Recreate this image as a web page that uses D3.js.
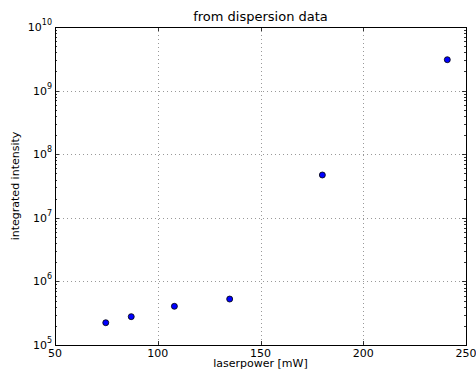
<!DOCTYPE html>
<html>
<head>
<meta charset="utf-8">
<script src="https://cdn.jsdelivr.net/npm/d3@7"></script>
<style>
  html, body { margin: 0; padding: 0; background: #fff; overflow: hidden; }
  svg { display: block; }
  text { font-family: "DejaVu Sans", sans-serif; fill: #000; }
</style>
</head>
<body>
<div id="chart"></div>
<script>
// laser power [mW] vs integrated intensity
const power = [74.7, 87.1, 108.1, 135.0, 180.1, 240.9];
const intensity = [2.24e5, 2.79e5, 4.06e5, 5.28e5, 4.71e7, 3.06e9];
const xTicks = [50, 100, 150, 200, 250];
const yExps = [5, 6, 7, 8, 9, 10];

const width = 476, height = 371;
const margin = { top: 27, right: 10, bottom: 26, left: 55 };
const innerWidth = 466 - margin.left;
const innerHeight = 345 - margin.top;

const svg = d3.select("#chart").append("svg")
    .attr("width", width).attr("height", height);
const g = svg.append("g").attr("transform", `translate(${margin.left},${margin.top})`);

const x = d3.scaleLinear().domain([50, 250]).range([0, innerWidth]);
const y = d3.scaleLog().domain([1e5, 1e10]).range([innerHeight, 0]);

// grid
g.selectAll(".gx").data(xTicks.slice(1, -1)).enter().append("line")
    .attr("x1", d => Math.round(x(d)) + 0.5).attr("x2", d => Math.round(x(d)) + 0.5)
    .attr("y1", 0).attr("y2", innerHeight)
    .attr("stroke", "#999").attr("stroke-width", 1).attr("stroke-dasharray", "1,3");
g.selectAll(".gy").data(yExps.slice(1, -1)).enter().append("line")
    .attr("y1", d => Math.round(y(Math.pow(10, d))) + 0.5).attr("y2", d => Math.round(y(Math.pow(10, d))) + 0.5)
    .attr("x1", 0).attr("x2", innerWidth)
    .attr("stroke", "#999").attr("stroke-width", 1).attr("stroke-dasharray", "1,3");

// ticks (inward, both sides)
const minor = [];
yExps.slice(0, -1).forEach(e => { for (let k = 2; k < 10; k++) minor.push(k * Math.pow(10, e)); });
g.selectAll(".ymin").data(minor).enter().append("path")
    .attr("d", d => { const yy = Math.round(y(d)) + 0.5; return `M0,${yy}h2M${innerWidth},${yy}h-2`; })
    .attr("stroke", "#000").attr("stroke-width", 0.8);
g.selectAll(".ymaj").data(yExps).enter().append("path")
    .attr("d", d => { const yy = Math.round(y(Math.pow(10, d))) + 0.5; return `M0,${yy}h4M${innerWidth},${yy}h-4`; })
    .attr("stroke", "#000").attr("stroke-width", 0.8);
g.selectAll(".xmaj").data(xTicks).enter().append("path")
    .attr("d", d => { const xx = Math.round(x(d)) + 0.5; return `M${xx},${innerHeight}v-4M${xx},0v4`; })
    .attr("stroke", "#000").attr("stroke-width", 0.8);

// frame
g.append("rect").attr("x", 0.5).attr("y", 0.5).attr("width", innerWidth).attr("height", innerHeight)
    .attr("fill", "none").attr("stroke", "#000").attr("stroke-width", 1);

// tick labels
g.selectAll(".xl").data(xTicks).enter().append("text")
    .attr("x", d => x(d)).attr("y", innerHeight + 12)
    .attr("text-anchor", "middle").style("font-size", "11px")
    .text(d => d);

const yl = g.selectAll(".yl").data(yExps).enter().append("text")
    .attr("x", -3).attr("y", d => y(Math.pow(10, d)) + 4)
    .attr("text-anchor", "end").style("font-size", "11px");
yl.append("tspan").text("10");
yl.append("tspan").attr("dy", -6).style("font-size", "8px").text(d => d);

// points
g.selectAll("circle").data(power.map((p, i) => [p, intensity[i]])).enter().append("circle")
    .attr("cx", d => x(d[0])).attr("cy", d => y(d[1])).attr("r", 3)
    .attr("fill", "#0000ff").attr("stroke", "#000").attr("stroke-width", 0.8);

// titles
svg.append("text").attr("x", margin.left + innerWidth / 2).attr("y", 21)
    .attr("text-anchor", "middle").style("font-size", "13px").text("from dispersion data");
svg.append("text").attr("x", margin.left + innerWidth / 2).attr("y", 367)
    .attr("text-anchor", "middle").style("font-size", "11px").text("laserpower [mW]");
svg.append("text").attr("transform", `translate(19,${margin.top + innerHeight / 2}) rotate(-90)`)
    .attr("text-anchor", "middle").style("font-size", "11px").text("integrated intensity");
</script>
</body>
</html>
